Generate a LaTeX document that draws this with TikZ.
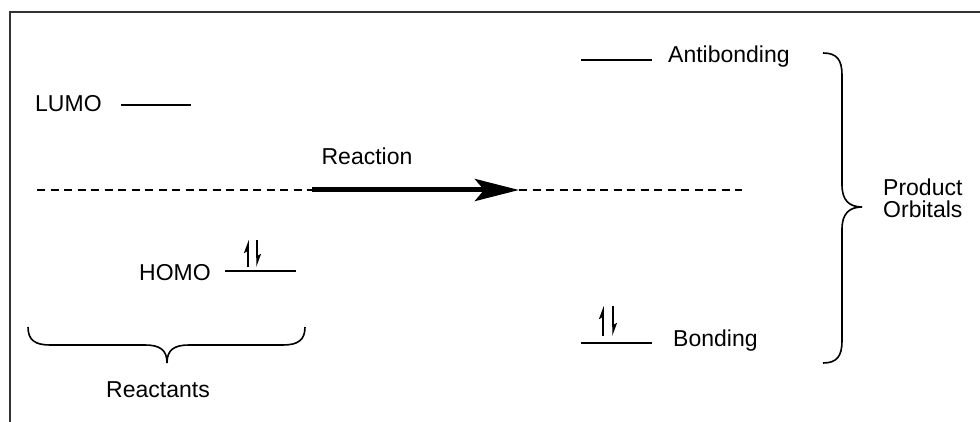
\documentclass[tikz,border=0pt]{standalone}
\usepackage{fontspec}
\setmainfont{Liberation Sans}
\usetikzlibrary{arrows.meta}
\tikzset{
  lbl/.style={inner sep=0pt, font=\fontsize{23}{26}\selectfont},
  orb/.style={line width=2.4pt},
  dashline/.style={line width=2.2pt, dash pattern=on 8pt off 5.5pt},
  spinup/.style={line width=1.5pt, -{Stealth[harpoon,length=11pt,width=8pt,inset=2pt]}},
  frameline/.style={line width=1.6pt, draw=black!80},
  bracestyle/.style={line width=1.6pt},
}
\begin{document}
\begin{tikzpicture}[x=1pt,y=-1pt]
\useasboundingbox (0,0) rectangle (980,422);
% frame
\coordinate (fA) at (10,422);
\coordinate (fB) at (10,12);
\coordinate (fC) at (980,12);
\draw[frameline] (fA) -- (fB) -- (fC);

% LUMO
\node[lbl, anchor=base west] (lumo) at (35,112) {LUMO};
\coordinate (lumoL) at (121,105);
\coordinate (lumoR) at (191,105);
\draw[orb] (lumoL) -- (lumoR);

% HOMO
\node[lbl, anchor=base west] (homo) at (139,280) {HOMO};
\coordinate (homoL) at (225,271);
\coordinate (homoR) at (296,271);
\draw[orb] (homoL) -- (homoR);
\coordinate (hu1) at (248,267);
\coordinate (hu2) at (248,240);
\coordinate (hd1) at (257,240);
\coordinate (hd2) at (257,267);
\draw[spinup] (hu1) -- (hu2);
\draw[spinup] (hd1) -- (hd2);

% dashed line and reaction arrow
\coordinate (dL) at (37,190);
\coordinate (aS) at (312,190);
\coordinate (aE) at (519,190);
\coordinate (dR) at (742,190);
\draw[dashline] (dL) -- (aS);
\draw[dashline] (aE) -- (dR);
\draw[line width=5pt, -{Stealth[length=44pt,width=22pt,inset=9pt]}] (aS) -- (aE);
\node[lbl, anchor=base] (reaction) at (367,165) {Reaction};

% Antibonding
\coordinate (abL) at (581,60);
\coordinate (abR) at (652,60);
\draw[orb] (abL) -- (abR);
\node[lbl, anchor=base west] (anti) at (668,63) {Antibonding};

% Bonding
\coordinate (bL) at (581,343);
\coordinate (bR) at (652,343);
\draw[orb] (bL) -- (bR);
\coordinate (bu1) at (603,336);
\coordinate (bu2) at (603,306);
\coordinate (bd1) at (613,306);
\coordinate (bd2) at (613,336);
\draw[spinup] (bu1) -- (bu2);
\draw[spinup] (bd1) -- (bd2);
\node[lbl, anchor=base west] (bond) at (673,346) {Bonding};

% Reactants brace
\coordinate (rb1) at (28,327);
\coordinate (rbT) at (167,363);
\coordinate (rb2) at (305,327);
\draw[bracestyle] (rb1) .. controls (28,340) and (35,345) .. (50,345)
  -- (145,345) .. controls (160,345) and (167,350) .. (rbT)
  .. controls (167,350) and (174,345) .. (189,345)
  -- (283,345) .. controls (298,345) and (305,340) .. (rb2);
\node[lbl, anchor=base] (react) at (158,397) {Reactants};

% Product brace
\coordinate (pb1) at (823,53);
\coordinate (pbT) at (862,207);
\coordinate (pb2) at (823,363);
\draw[bracestyle] (pb1) .. controls (837,53) and (842,60) .. (842,75)
  -- (842,185) .. controls (842,200) and (849,207) .. (pbT)
  .. controls (849,207) and (842,214) .. (842,229)
  -- (842,341) .. controls (842,356) and (837,363) .. (pb2);
\node[lbl, anchor=base west] (prod1) at (883,196) {Product};
\node[lbl, anchor=base west] (prod2) at (883,218) {Orbitals};
\end{tikzpicture}
\end{document}
